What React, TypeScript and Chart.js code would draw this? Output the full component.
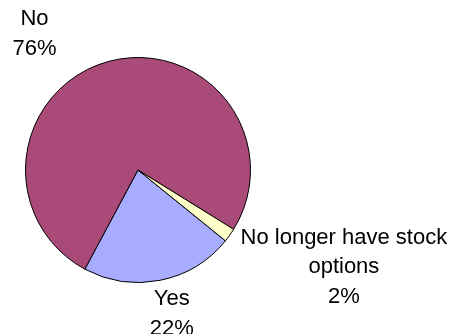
import React, { useEffect, useRef } from "react";
import { Chart, registerables } from "chart.js";

Chart.register(...registerables);

const categories: string[] = ["Yes", "No", "No longer have stock options"];
const labelLines: string[][] = [["Yes"], ["No"], ["No longer have stock", "options"]];
const values: number[] = [22, 76, 2];
const colors: string[] = ["#A8ACFF", "#A94A78", "#FFFFCC"];

// label placement relative to pie centre, in units of radius
const labelOffsets: { dx: number; dy: number }[] = [
  { dx: 0.3, dy: 1.15 },
  { dx: -0.92, dy: -1.34 },
  { dx: 1.83, dy: 0.6 },
];

const labelPlugin = {
  id: "pieLabels",
  afterDraw(chart: any) {
    const ctx = chart.ctx;
    const meta = chart.getDatasetMeta(0);
    const total = values.reduce((a, b) => a + b, 0);
    ctx.save();
    ctx.font = "22px 'Liberation Sans', Arial, sans-serif";
    ctx.fillStyle = "#000";
    ctx.textAlign = "center";
    ctx.textBaseline = "middle";
    meta.data.forEach((arc: any, i: number) => {
      const { x, y, outerRadius } = arc.getProps(["x", "y", "outerRadius"], true);
      const cx = x + labelOffsets[i].dx * outerRadius;
      const cy = y + labelOffsets[i].dy * outerRadius;
      const lines = [...labelLines[i], Math.round((values[i] / total) * 100) + "%"];
      lines.forEach((t, k) => ctx.fillText(t, cx, cy + k * 29.7));
    });
    ctx.restore();
  },
};

export default function App() {
  const ref = useRef<HTMLCanvasElement>(null);
  useEffect(() => {
    if (!ref.current) return;
    const chart = new Chart(ref.current, {
      type: "pie",
      data: {
        labels: categories,
        datasets: [
          {
            data: values,
            backgroundColor: colors,
            borderColor: "#000",
            borderWidth: 1,
          },
        ],
      },
      options: {
        animation: false,
        responsive: false,
        rotation: 129,
        layout: { padding: { left: 25, top: 57, right: 200, bottom: 51 } },
        plugins: {
          legend: { display: false },
          tooltip: { enabled: false },
        },
      },
      plugins: [labelPlugin],
    });
    return () => chart.destroy();
  }, []);
  return (
    <div style={{ position: "absolute", left: 0, top: 0, width: 451, height: 334, background: "#fff" }}>
      <canvas ref={ref} width={451} height={334} style={{ width: 451, height: 334 }} />
    </div>
  );
}
